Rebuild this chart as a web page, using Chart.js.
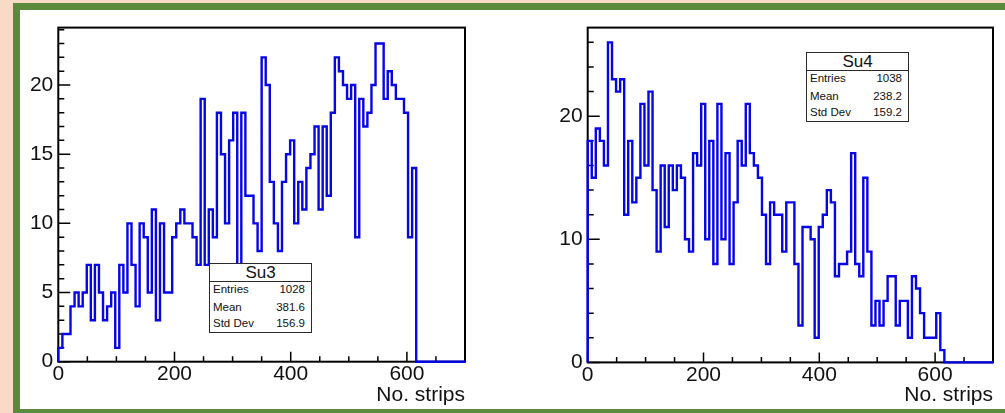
<!DOCTYPE html>
<html>
<head>
<meta charset="utf-8">
<title>Su3 / Su4 strip occupancy</title>
<script src="https://cdn.jsdelivr.net/npm/chart.js@4.4.1/dist/chart.umd.min.js"></script>
<style>
    html, body { margin: 0; padding: 0; }
    body {
        width: 1005px; height: 413px; overflow: hidden; position: relative;
        background: #f8dac7;
        font-family: "Liberation Sans", Arial, sans-serif;
    }
    .slide {
        position: absolute; left: 13px; top: 3px; width: 1010px; height: 413px;
        box-sizing: border-box; border: 7px solid #5a8a3a; background: #fff;
    }
    canvas.panel { position: absolute; top: 10px; }
    #leftPanel { left: 20px; }
    #rightPanel { left: 490px; }
    .stats {
        position: absolute; width: 103px; height: 70px; box-sizing: border-box;
        border: 1.5px solid #2a2a2a; background: #fff; color: #111;
    }
    .stats .title {
        height: 17px; border-bottom: 1px solid #2a2a2a; text-align: center;
        font-size: 17px; line-height: 17px;
    }
    .stats .row {
        position: absolute; left: 3px; right: 6px; display: flex;
        justify-content: space-between; font-size: 11.5px; line-height: 1;
        transform: translateY(-50%);
    }
</style>
</head>
<body>
<div class="slide"></div>
<canvas id="leftPanel" class="panel" width="470" height="399"></canvas>
<canvas id="rightPanel" class="panel" width="515" height="399"></canvas>

<script>
// Binning of both histograms: 100 bins from 0 to 700 strips
const binWidth = 7;
const xMin = 0;
const xMax = 700;

// Counts per bin
const su3Counts = [
    1, 2, 2, 4, 5, 4, 5, 7, 3, 7,
    5, 3, 4, 5, 1, 7, 5, 10, 7, 4,
    10, 9, 5, 11, 3, 10, 5, 5, 9, 10,
    11, 10, 10, 9, 7, 19, 7, 11, 9, 18,
    15, 10, 16, 18, 7, 18, 12, 12, 10, 8,
    22, 20, 13, 10, 8, 13, 15, 16, 10, 13,
    11, 14, 15, 17, 11, 17, 12, 18, 22, 21,
    20, 19, 20, 9, 19, 17, 18, 20, 23, 23,
    19, 21, 20, 19, 19, 18, 9, 14, 0, 0,
    0, 0, 0, 0, 0, 0, 0, 0, 0, 0
];
const su4Counts = [
    18, 15, 19, 18, 16, 26, 23, 22, 23, 12,
    18, 13, 15, 21, 16, 22, 14, 9, 16, 11,
    16, 14, 16, 15, 10, 9, 17, 16, 21, 10,
    18, 8, 21, 10, 17, 8, 13, 18, 16, 21,
    17, 16, 15, 12, 8, 13, 12, 12, 9, 13,
    13, 8, 3, 11, 11, 10, 2, 11, 12, 14,
    13, 7, 8, 8, 9, 17, 8, 7, 15, 9,
    3, 5, 3, 5, 7, 7, 3, 5, 5, 2,
    7, 6, 4, 2, 2, 2, 4, 1, 0, 0,
    0, 0, 0, 0, 0, 0, 0, 0, 0, 0
];

// Axis tick labels
const xTickValues = [0, 200, 400, 600];
const su3YTicks = [0, 5, 10, 15, 20];
const su4YTicks = [0, 10, 20];

// Stats boxes
const statLabels = ['Entries', 'Mean', 'Std Dev'];
const su3Stats = ['1028', '381.6', '156.9'];
const su4Stats = ['1038', '238.2', '159.2'];

const FONT = '"Liberation Sans", Arial, sans-serif';
const HIST_BLUE = '#0505e6';

/**
 * Turn bin counts into the outline ROOT draws for a histogram
 */
function histOutline(counts) {
    const pts = [{ x: xMin, y: 0 }];
    counts.forEach((c, i) => {
        pts.push({ x: xMin + i * binWidth, y: c });
        pts.push({ x: xMin + (i + 1) * binWidth, y: c });
    });
    pts.push({ x: xMin + counts.length * binWidth, y: 0 });
    return pts;
}

/**
 * Frame and inward tick marks, ROOT style
 */
const rootFrame = {
    id: 'rootFrame',
    beforeDatasetsDraw(chart, args, opts) {
        const { ctx, chartArea: a } = chart;
        const x = chart.scales.x, y = chart.scales.y;
        ctx.save();
        ctx.strokeStyle = '#000';
        ctx.lineWidth = 2;
        ctx.strokeRect(a.left, a.top, a.right - a.left, a.bottom - a.top);

        ctx.lineWidth = 1.5;
        ctx.beginPath();
        for (let v = x.min; v <= x.max; v += opts.xMinor) {
            const px = x.getPixelForValue(v);
            const len = v % opts.xMajor === 0 ? 10 : 5.5;
            ctx.moveTo(px, a.bottom);
            ctx.lineTo(px, a.bottom - len);
        }
        for (let v = 0; v <= y.max; v += opts.yMinor) {
            const py = y.getPixelForValue(v);
            const len = v % opts.yMajor === 0 ? 12 : 6;
            ctx.moveTo(a.left, py);
            ctx.lineTo(a.left + len, py);
        }
        ctx.stroke();
        ctx.restore();
    }
};

function createHistogram(canvasId, counts, cfg) {
    const ctx = document.getElementById(canvasId).getContext('2d');
    return new Chart(ctx, {
        type: 'line',
        data: {
            datasets: [{
                data: histOutline(counts),
                borderColor: HIST_BLUE,
                borderWidth: 2.4,
                pointRadius: 0,
                tension: 0,
                fill: false,
                clip: false
            }]
        },
        options: {
            responsive: false,
            animation: false,
            parsing: false,
            layout: { padding: cfg.padding },
            plugins: {
                legend: { display: false },
                tooltip: { enabled: false },
                rootFrame: cfg.ticks
            },
            scales: {
                x: {
                    type: 'linear',
                    min: xMin,
                    max: xMax,
                    afterBuildTicks: s => { s.ticks = xTickValues.map(v => ({ value: v })); },
                    afterFit: s => { s.height = cfg.xAxisHeight; },
                    grid: { display: false, drawTicks: false },
                    border: { display: false },
                    ticks: {
                        color: '#111',
                        font: { family: FONT, size: 21, lineHeight: 1.1 },
                        padding: 1,
                        maxRotation: 0,
                        autoSkip: false
                    },
                    title: {
                        display: true,
                        text: 'No. strips',
                        align: 'end',
                        color: '#111',
                        font: { family: FONT, size: 21, lineHeight: 1.2 },
                        padding: { top: 0, bottom: 1 }
                    }
                },
                y: {
                    type: 'linear',
                    min: 0,
                    max: cfg.yMax,
                    afterBuildTicks: s => { s.ticks = cfg.yTicks.map(v => ({ value: v })); },
                    afterFit: s => { s.width = cfg.yAxisWidth; },
                    grid: { display: false, drawTicks: false },
                    border: { display: false },
                    ticks: {
                        color: '#111',
                        font: { family: FONT, size: 21 },
                        padding: 5,
                        autoSkip: false
                    }
                }
            }
        },
        plugins: [rootFrame]
    });
}

/**
 * Stats box in the corner of a pad
 */
function addStatsBox(name, values, left, top) {
    const box = document.createElement('div');
    box.className = 'stats';
    box.style.left = left + 'px';
    box.style.top = top + 'px';
    const title = document.createElement('div');
    title.className = 'title';
    title.textContent = name;
    box.appendChild(title);
    const rowTops = [26, 43.5, 60];
    statLabels.forEach((label, i) => {
        const row = document.createElement('div');
        row.className = 'row';
        row.style.top = rowTops[i] + 'px';
        row.innerHTML = `<span>${label}</span><span>${values[i]}</span>`;
        box.appendChild(row);
    });
    document.body.appendChild(box);
}

createHistogram('leftPanel', su3Counts, {
    padding: { left: 0, top: 8, right: 25, bottom: 0 },
    yAxisWidth: 38.3,
    xAxisHeight: 47.3,
    yMax: 24.15,
    yTicks: su3YTicks,
    ticks: { xMinor: 50, xMajor: 200, yMinor: 1, yMajor: 5 }
});

createHistogram('rightPanel', su4Counts, {
    padding: { left: 0, top: 8, right: 12, bottom: 0 },
    yAxisWidth: 97.7,
    xAxisHeight: 46.6,
    yMax: 27.2,
    yTicks: su4YTicks,
    ticks: { xMinor: 50, xMajor: 200, yMinor: 2, yMajor: 10 }
});

addStatsBox('Su3', su3Stats, 209, 263);
addStatsBox('Su4', su4Stats, 806, 52);
</script>
</body>
</html>
